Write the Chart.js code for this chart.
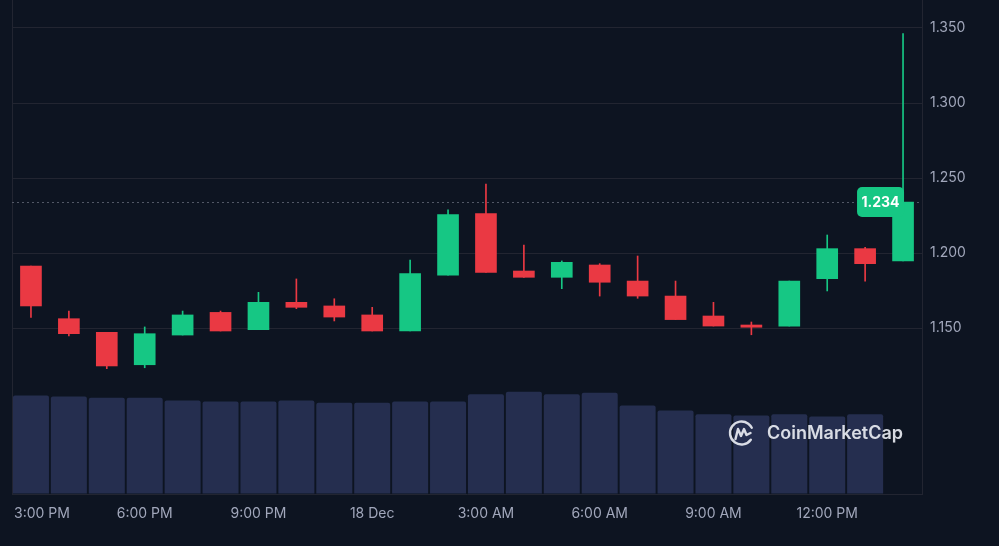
<!DOCTYPE html>
<html>
<head>
<meta charset="utf-8">
<script src="https://cdn.jsdelivr.net/npm/chart.js@4.4.1/dist/chart.umd.min.js"></script>
<style>
  html, body { margin: 0; padding: 0; background: #0d1421; }
  #wrap { width: 999px; height: 546px; position: relative; }
</style>
</head>
<body>
<div id="wrap"><canvas id="myChart"></canvas></div>
<script>
// hourly candles, 17 Dec 3 PM -> 18 Dec 2 PM
var hours = ["3 PM", "4 PM", "5 PM", "6 PM", "7 PM", "8 PM", "9 PM", "10 PM", "11 PM",
  "12 AM", "1 AM", "2 AM", "3 AM", "4 AM", "5 AM", "6 AM", "7 AM", "8 AM", "9 AM",
  "10 AM", "11 AM", "12 PM", "1 PM", "2 PM"];

var opens  = [1.1913, 1.1562, 1.1471, 1.1255, 1.1453, 1.1604, 1.1489, 1.1671, 1.1647, 1.1587, 1.1480, 1.1853,
              1.2262, 1.1880, 1.1838, 1.1920, 1.1813, 1.1713, 1.1580, 1.1520, 1.1513, 1.1829, 1.2029, 1.1947];
var closes = [1.1647, 1.1462, 1.1247, 1.1462, 1.1587, 1.1480, 1.1671, 1.1638, 1.1573, 1.1480, 1.1862, 1.2256,
              1.1871, 1.1838, 1.1938, 1.1805, 1.1713, 1.1556, 1.1513, 1.1505, 1.1813, 1.2029, 1.1929, 1.2340];
var highs  = [1.1913, 1.1613, 1.1471, 1.1507, 1.1613, 1.1613, 1.1738, 1.1827, 1.1695, 1.1638, 1.1953, 1.2287,
              1.2460, 1.2053, 1.1947, 1.1929, 1.1980, 1.1813, 1.1671, 1.1540, 1.1813, 1.2120, 1.2038, 1.3462];
var lows   = [1.1571, 1.1447, 1.1229, 1.1235, 1.1453, 1.1480, 1.1489, 1.1629, 1.1547, 1.1480, 1.1480, 1.1853,
              1.1871, 1.1838, 1.1762, 1.1713, 1.1698, 1.1556, 1.1513, 1.1455, 1.1513, 1.1747, 1.1813, 1.1947];
// volume (relative), last hour not yet reported
var volumes = [98.5, 97.5, 96.2, 96.2, 93.5, 92.5, 92.5, 93.5, 91.2, 91.2, 92.5, 92.5,
               99.8, 102.2, 99.8, 101.2, 88.5, 83.5, 79.8, 78.5, 79.8, 77.5, 79.8, null];

var priceTicks = [1.15, 1.2, 1.25, 1.3, 1.35];
var xTickIndex = [0, 3, 6, 9, 12, 15, 18, 21];
var xTickLabels = ["3:00 PM", "6:00 PM", "9:00 PM", "18 Dec", "3:00 AM", "6:00 AM", "9:00 AM", "12:00 PM"];

var UP = "#16c784";
var DOWN = "#ea3943";
var GRID = "#222531";
var TEXT = "#a1a7bb";

var candleColors = opens.map(function (o, i) { return closes[i] >= o ? UP : DOWN; });
var wickData = lows.map(function (l, i) { return [l, highs[i]]; });
var bodyData = opens.map(function (o, i) { return [o, closes[i]]; });
var last = closes.length - 1;

Chart.defaults.font.family = "Inter, 'Noto Sans', sans-serif";

function noPad(s) {
  s.paddingTop = 0;
  s.paddingBottom = 0;
  s.paddingLeft = 0;
  s.paddingRight = 0;
}

var extras = {
  id: "extras",
  beforeDatasetsDraw: function (chart) {
    var ctx = chart.ctx, area = chart.chartArea;
    var y = Math.round(chart.scales.y.getPixelForValue(closes[last])) + 0.5;
    ctx.save();
    ctx.strokeStyle = "#525866";
    ctx.lineWidth = 1;
    ctx.setLineDash([2, 3]);
    ctx.beginPath();
    ctx.moveTo(area.left, y);
    ctx.lineTo(area.right, y);
    ctx.stroke();
    ctx.restore();
  },
  afterDatasetsDraw: function (chart) {
    var ctx = chart.ctx;
    // last price tag
    var y = chart.scales.y.getPixelForValue(closes[last]);
    var xc = chart.scales.x.getPixelForValue(last);
    var w = 47, h = 30;
    ctx.save();
    ctx.fillStyle = candleColors[last];
    ctx.beginPath();
    ctx.roundRect(xc + 1 - w, y - h / 2, w, h, 5);
    ctx.fill();
    ctx.fillStyle = "#ffffff";
    ctx.font = "bold 14px Inter, 'Noto Sans', sans-serif";
    ctx.textAlign = "center";
    ctx.textBaseline = "middle";
    ctx.fillText(closes[last].toFixed(3), xc + 1 - w / 2, y + 1);

    // watermark
    var cx = 741.5, cy = 433;
    ctx.strokeStyle = "rgba(232,235,242,0.92)";
    ctx.lineWidth = 2.4;
    ctx.lineCap = "round";
    ctx.lineJoin = "round";
    ctx.beginPath();
    ctx.arc(cx, cy, 11.5, 0.2 * Math.PI, 1.85 * Math.PI);
    ctx.stroke();
    ctx.beginPath();
    ctx.moveTo(cx - 6, cy + 6);
    ctx.lineTo(cx - 3.5, cy - 4);
    ctx.lineTo(cx - 0.5, cy + 3);
    ctx.lineTo(cx + 2.5, cy - 4);
    ctx.lineTo(cx + 5, cy + 2);
    ctx.lineTo(cx + 9, cy);
    ctx.stroke();
    ctx.fillStyle = "rgba(232,235,242,0.92)";
    ctx.font = "600 18px Inter, 'Noto Sans', sans-serif";
    ctx.textAlign = "left";
    ctx.textBaseline = "middle";
    ctx.fillText("CoinMarketCap", 767, cy + 1);
    ctx.restore();
  },
  afterDraw: function (chart) {
    var ctx = chart.ctx, area = chart.chartArea, xs = chart.scales.x;
    ctx.save();
    ctx.fillStyle = TEXT;
    ctx.font = "14px Inter, 'Noto Sans', sans-serif";
    ctx.textBaseline = "middle";
    ctx.textAlign = "left";
    for (var i = 0; i < xTickIndex.length; i++) {
      var label = xTickLabels[i];
      var tw = ctx.measureText(label).width;
      var x = xs.getPixelForValue(xTickIndex[i]) - tw / 2;
      if (x < area.left + 2) x = area.left + 2;
      ctx.fillText(label, x, 514);
    }
    ctx.restore();
  }
};

var ctx = document.getElementById("myChart").getContext("2d");
var myChart = new Chart(ctx, {
  type: "bar",
  data: {
    labels: hours,
    datasets: [
      {
        label: "Body",
        data: bodyData,
        backgroundColor: candleColors,
        barThickness: 21,
        grouped: false,
        yAxisID: "y",
        order: 1,
        borderSkipped: false,
      },
      {
        label: "Wick",
        data: wickData,
        backgroundColor: candleColors,
        barThickness: 1,
        grouped: false,
        yAxisID: "y",
        order: 2,
        borderSkipped: false,
      },
      {
        label: "Volume",
        data: volumes,
        backgroundColor: "#252e4f",
        categoryPercentage: 1,
        barPercentage: 0.95,
        borderRadius: { topLeft: 2, topRight: 2 },
        borderSkipped: "start",
        grouped: false,
        yAxisID: "yVol",
        order: 3,
      },
    ],
  },
  plugins: [extras],
  options: {
    responsive: true,
    maintainAspectRatio: false,
    animation: false,
    layout: { padding: { left: 12, top: 0, right: 0, bottom: 0 } },
    plugins: {
      legend: { display: false },
      tooltip: { enabled: false },
    },
    scales: {
      x: {
        type: "category",
        offset: true,
        grid: { display: true, drawOnChartArea: false, drawTicks: false },
        border: { display: true, color: GRID, width: 1 },
        ticks: { display: false },
        afterFit: function (s) { s.height = 52; noPad(s); },
      },
      y: {
        position: "right",
        min: 1.35 - 466 / 1500,
        max: 1.35 + 28 / 1500,
        afterBuildTicks: function (s) {
          s.ticks = priceTicks.map(function (v) { return { value: v }; });
        },
        grid: { color: GRID, lineWidth: 1, drawTicks: false },
        border: { display: true, color: GRID, width: 1 },
        ticks: {
          color: TEXT,
          font: { size: 14 },
          padding: 8,
          callback: function (v) { return Number(v).toFixed(3); },
        },
        afterFit: function (s) { s.width = 77; noPad(s); },
      },
      yVol: {
        position: "left",
        min: 0,
        max: 494,
        grid: { display: true, drawOnChartArea: false, drawTicks: false },
        border: { display: true, color: GRID, width: 1 },
        ticks: { display: false },
        afterFit: function (s) { s.width = 0; noPad(s); },
      },
    },
  },
});
</script>
</body>
</html>
